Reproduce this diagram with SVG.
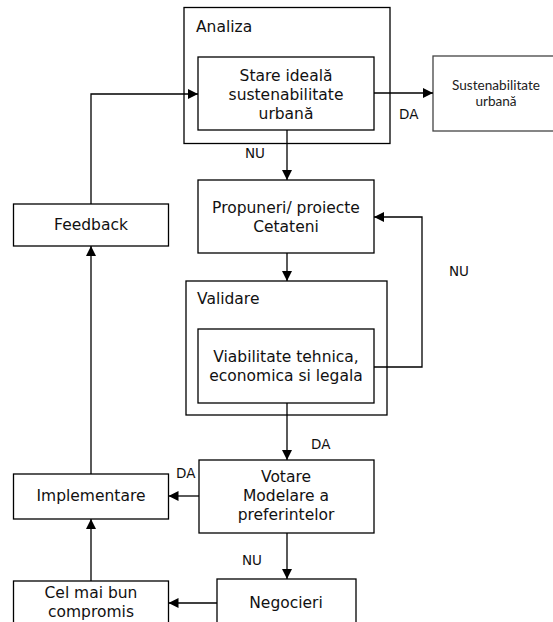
<svg xmlns="http://www.w3.org/2000/svg" width="553" height="622" viewBox="0 0 553 622">
  <defs>
    <marker id="arrow" viewBox="0 0 10 10" refX="10" refY="5" markerWidth="10" markerHeight="10" markerUnits="userSpaceOnUse" orient="auto">
      <path d="M0,0 L10,5 L0,10 Z" fill="#000"/>
    </marker>
    <style>
      .box { fill: #fff; stroke: #000; stroke-width: 1.3; }
      .t { font-family: "DejaVu Sans", Verdana, sans-serif; font-size: 15.5px; fill: #111; text-anchor: middle; }
      .title { font-family: "DejaVu Sans", Verdana, sans-serif; font-size: 15.5px; fill: #111; }
      .small { font-family: Lato, "Open Sans", sans-serif; font-size: 13.6px; fill: #222; text-anchor: middle; }
      .lbl { font-family: "DejaVu Sans", Verdana, sans-serif; font-size: 13.5px; fill: #111; }
      .conn { fill: none; stroke: #000; stroke-width: 1.3; }
      .arr { marker-end: url(#arrow); }
    </style>
  </defs>
  <rect width="553" height="622" fill="#fff"/>

  <g id="analiza">
    <rect class="box" x="184" y="7.5" width="206" height="136"/>
    <text class="title" x="196" y="32">Analiza</text>
  </g>
  <g id="stare-ideala">
    <rect class="box" x="198" y="57" width="176" height="73"/>
    <text class="t" x="286" y="81">Stare ideală</text>
    <text class="t" x="286" y="100">sustenabilitate</text>
    <text class="t" x="286" y="119">urbană</text>
  </g>
  <g id="sustenabilitate">
    <rect class="box" x="433" y="56" width="125" height="75" style="stroke:#444"/>
    <text class="small" x="496" y="90">Sustenabilitate</text>
    <text class="small" x="496" y="106">urbană</text>
  </g>
  <g id="feedback">
    <rect class="box" x="13.5" y="204" width="155" height="42"/>
    <text class="t" x="91" y="230">Feedback</text>
  </g>
  <g id="propuneri">
    <rect class="box" x="198" y="180" width="176" height="73"/>
    <text class="t" x="286" y="213">Propuneri/ proiecte</text>
    <text class="t" x="286" y="232">Cetateni</text>
  </g>
  <g id="validare">
    <rect class="box" x="186" y="281" width="201" height="134"/>
    <text class="title" x="197" y="304">Validare</text>
  </g>
  <g id="viabilitate">
    <rect class="box" x="198" y="329" width="176" height="74"/>
    <text class="t" x="286" y="362">Viabilitate tehnica,</text>
    <text class="t" x="286" y="381">economica si legala</text>
  </g>
  <g id="votare">
    <rect class="box" x="199" y="460" width="175" height="73"/>
    <text class="t" x="286" y="482">Votare</text>
    <text class="t" x="286" y="501">Modelare a</text>
    <text class="t" x="286" y="520">preferintelor</text>
  </g>
  <g id="implementare">
    <rect class="box" x="13.5" y="474" width="155" height="45"/>
    <text class="t" x="91" y="501">Implementare</text>
  </g>
  <g id="negocieri">
    <rect class="box" x="217" y="579" width="139" height="60"/>
    <text class="t" x="286" y="608">Negocieri</text>
  </g>
  <g id="compromis">
    <rect class="box" x="13.5" y="581" width="155" height="60"/>
    <text class="t" x="91" y="598">Cel mai bun</text>
    <text class="t" x="91" y="617">compromis</text>
  </g>

  <g id="connectors">
    <path class="conn arr" d="M374,93 L433,93"/>
    <path class="conn arr" d="M287,130 L287,180"/>
    <path class="conn arr" d="M91,204 L91,94 L198,94"/>
    <path class="conn arr" d="M287,253 L287,281"/>
    <path class="conn arr" d="M374,367 L422,367 L422,217 L374,217"/>
    <path class="conn arr" d="M287,403 L287,460"/>
    <path class="conn arr" d="M199,496 L168.5,496"/>
    <path class="conn arr" d="M91,474 L91,246"/>
    <path class="conn arr" d="M287,533 L287,579"/>
    <path class="conn arr" d="M217,603 L168.5,603"/>
    <path class="conn arr" d="M91,581 L91,519"/>
  </g>

  <g id="labels">
    <text class="lbl" x="399" y="119">DA</text>
    <text class="lbl" x="245" y="158">NU</text>
    <text class="lbl" x="449" y="276">NU</text>
    <text class="lbl" x="311" y="449">DA</text>
    <text class="lbl" x="176" y="478">DA</text>
    <text class="lbl" x="242" y="565">NU</text>
  </g>
</svg>
